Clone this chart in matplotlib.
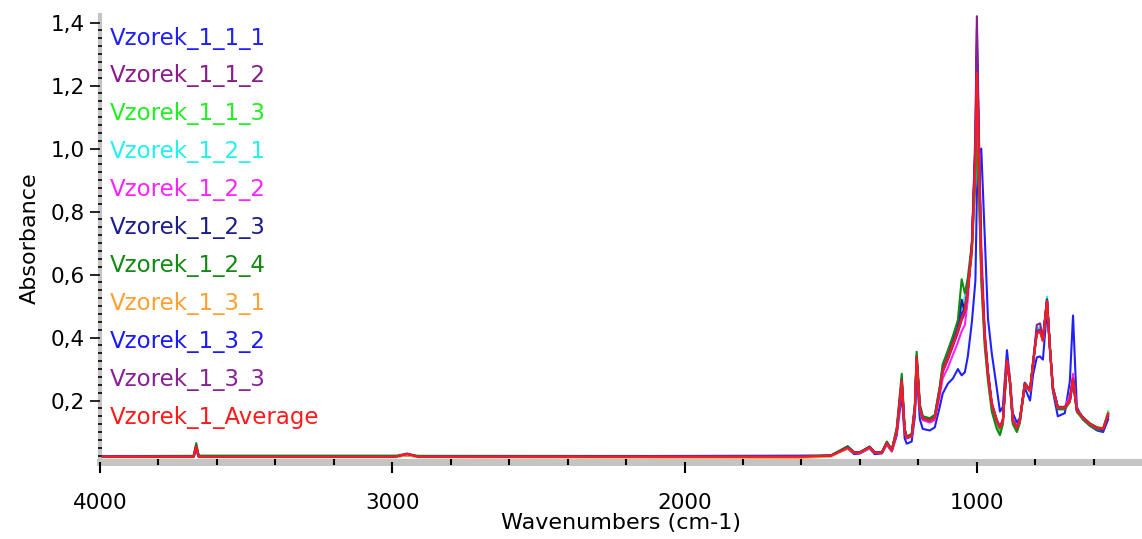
# FTIR spectra of Vzorek_1 samples
# Absorbance vs wavenumber, all replicates plus average



# Import libraries ............................................................

import numpy as np
import matplotlib
matplotlib.use("Agg")
import matplotlib.pyplot as plt
from matplotlib.ticker import MultipleLocator, FuncFormatter



# Data ................................................

# Common wavenumber grid (cm-1)
wavenumbers = [3990, 3680, 3671, 3662, 2990, 2950, 2910, 1600, 1500, 1442,
               1420, 1400, 1367, 1350, 1325, 1308, 1291, 1274, 1257, 1247,
               1240, 1223, 1212, 1206, 1195, 1185, 1161, 1144, 1127, 1117,
               1099, 1082, 1065, 1052, 1041, 1031, 1017, 1005, 1000, 995,
               985, 973, 962, 949, 932, 921, 911, 897, 887, 877,
               863, 853, 836, 818, 808, 795, 784, 774, 760, 750,
               740, 723, 699, 682, 671, 658, 637, 613, 589, 568,
               551]

vzorek_1_1_1 = [0.022, 0.022, 0.040, 0.022, 0.022, 0.026, 0.022, 0.025, 0.025, 0.048,
                0.030, 0.032, 0.048, 0.030, 0.032, 0.060, 0.038, 0.090, 0.220, 0.080,
                0.063, 0.070, 0.150, 0.290, 0.140, 0.110, 0.105, 0.115, 0.180, 0.222,
                0.254, 0.270, 0.300, 0.280, 0.290, 0.340, 0.450, 0.580, 0.850, 0.980,
                1.000, 0.720, 0.460, 0.350, 0.240, 0.165, 0.180, 0.360, 0.270, 0.160,
                0.130, 0.145, 0.240, 0.200, 0.280, 0.337, 0.340, 0.330, 0.490, 0.360,
                0.230, 0.150, 0.160, 0.260, 0.470, 0.180, 0.140, 0.120, 0.105, 0.100,
                0.140]

vzorek_1_1_2 = [0.022, 0.022, 0.050, 0.022, 0.022, 0.028, 0.022, 0.022, 0.025, 0.050,
                0.035, 0.035, 0.050, 0.035, 0.035, 0.064, 0.042, 0.100, 0.255, 0.100,
                0.080, 0.086, 0.172, 0.330, 0.172, 0.140, 0.134, 0.143, 0.228, 0.290,
                0.330, 0.372, 0.415, 0.455, 0.478, 0.545, 0.700, 1.050, 1.420, 1.150,
                0.650, 0.400, 0.280, 0.185, 0.130, 0.108, 0.132, 0.322, 0.258, 0.132,
                0.110, 0.134, 0.250, 0.228, 0.312, 0.425, 0.430, 0.395, 0.515, 0.365,
                0.238, 0.176, 0.176, 0.198, 0.262, 0.168, 0.144, 0.124, 0.112, 0.108,
                0.150]

vzorek_1_1_3 = [0.024, 0.025, 0.045, 0.026, 0.026, 0.030, 0.025, 0.024, 0.026, 0.055,
                0.036, 0.036, 0.054, 0.036, 0.036, 0.067, 0.044, 0.110, 0.270, 0.110,
                0.086, 0.092, 0.185, 0.345, 0.185, 0.150, 0.142, 0.152, 0.240, 0.305,
                0.350, 0.395, 0.440, 0.490, 0.510, 0.560, 0.660, 0.900, 1.120, 0.980,
                0.600, 0.390, 0.275, 0.180, 0.128, 0.100, 0.130, 0.320, 0.258, 0.130,
                0.106, 0.132, 0.255, 0.236, 0.320, 0.420, 0.425, 0.392, 0.520, 0.370,
                0.242, 0.180, 0.180, 0.202, 0.268, 0.172, 0.148, 0.128, 0.116, 0.112,
                0.165]

vzorek_1_2_1 = [0.022, 0.022, 0.035, 0.022, 0.022, 0.026, 0.022, 0.022, 0.025, 0.052,
                0.036, 0.036, 0.053, 0.036, 0.036, 0.066, 0.043, 0.108, 0.268, 0.108,
                0.085, 0.090, 0.182, 0.342, 0.182, 0.148, 0.142, 0.150, 0.242, 0.310,
                0.355, 0.400, 0.448, 0.500, 0.530, 0.575, 0.680, 0.920, 1.100, 0.960,
                0.600, 0.395, 0.282, 0.186, 0.134, 0.110, 0.134, 0.325, 0.260, 0.134,
                0.110, 0.134, 0.258, 0.234, 0.322, 0.430, 0.432, 0.398, 0.530, 0.372,
                0.242, 0.180, 0.180, 0.200, 0.262, 0.170, 0.146, 0.126, 0.114, 0.110,
                0.160]

vzorek_1_2_2 = [0.022, 0.022, 0.060, 0.022, 0.022, 0.026, 0.022, 0.022, 0.025, 0.048,
                0.034, 0.034, 0.050, 0.034, 0.034, 0.062, 0.040, 0.100, 0.250, 0.100,
                0.080, 0.086, 0.170, 0.325, 0.172, 0.138, 0.130, 0.138, 0.215, 0.270,
                0.305, 0.345, 0.385, 0.420, 0.440, 0.520, 0.700, 1.000, 1.160, 1.100,
                0.700, 0.420, 0.295, 0.195, 0.140, 0.118, 0.140, 0.330, 0.265, 0.140,
                0.118, 0.140, 0.255, 0.232, 0.315, 0.410, 0.418, 0.388, 0.512, 0.365,
                0.238, 0.178, 0.180, 0.215, 0.285, 0.172, 0.146, 0.126, 0.114, 0.110,
                0.155]

vzorek_1_2_3 = [0.022, 0.022, 0.045, 0.022, 0.022, 0.028, 0.022, 0.022, 0.025, 0.050,
                0.035, 0.035, 0.052, 0.035, 0.035, 0.065, 0.042, 0.104, 0.260, 0.104,
                0.082, 0.088, 0.176, 0.335, 0.176, 0.142, 0.136, 0.146, 0.235, 0.300,
                0.345, 0.390, 0.432, 0.520, 0.480, 0.548, 0.690, 1.000, 1.300, 1.080,
                0.630, 0.400, 0.284, 0.188, 0.135, 0.112, 0.136, 0.326, 0.262, 0.136,
                0.112, 0.136, 0.252, 0.230, 0.316, 0.415, 0.424, 0.392, 0.518, 0.368,
                0.240, 0.178, 0.178, 0.200, 0.268, 0.170, 0.146, 0.126, 0.114, 0.110,
                0.158]

vzorek_1_2_4 = [0.022, 0.022, 0.065, 0.022, 0.022, 0.028, 0.022, 0.022, 0.025, 0.055,
                0.036, 0.036, 0.054, 0.036, 0.036, 0.070, 0.044, 0.115, 0.285, 0.112,
                0.086, 0.094, 0.190, 0.355, 0.188, 0.150, 0.144, 0.155, 0.245, 0.315,
                0.360, 0.405, 0.455, 0.585, 0.540, 0.590, 0.700, 0.900, 1.080, 0.940,
                0.580, 0.370, 0.262, 0.165, 0.110, 0.090, 0.125, 0.320, 0.255, 0.125,
                0.100, 0.128, 0.250, 0.230, 0.318, 0.418, 0.425, 0.390, 0.522, 0.366,
                0.236, 0.172, 0.172, 0.195, 0.262, 0.164, 0.140, 0.120, 0.108, 0.104,
                0.150]

vzorek_1_3_1 = [0.020, 0.020, 0.050, 0.020, 0.020, 0.026, 0.020, 0.018, 0.022, 0.048,
                0.034, 0.034, 0.050, 0.034, 0.034, 0.063, 0.041, 0.103, 0.260, 0.103,
                0.082, 0.088, 0.176, 0.333, 0.176, 0.142, 0.136, 0.145, 0.232, 0.296,
                0.340, 0.382, 0.425, 0.470, 0.490, 0.552, 0.685, 0.980, 1.280, 1.060,
                0.625, 0.400, 0.285, 0.188, 0.136, 0.113, 0.136, 0.326, 0.262, 0.136,
                0.113, 0.136, 0.253, 0.231, 0.316, 0.414, 0.422, 0.390, 0.516, 0.367,
                0.239, 0.177, 0.177, 0.199, 0.268, 0.169, 0.145, 0.125, 0.113, 0.109,
                0.160]

vzorek_1_3_2 = [0.022, 0.022, 0.055, 0.022, 0.022, 0.030, 0.022, 0.024, 0.025, 0.052,
                0.036, 0.036, 0.053, 0.036, 0.036, 0.066, 0.043, 0.106, 0.265, 0.106,
                0.084, 0.090, 0.180, 0.338, 0.180, 0.144, 0.138, 0.147, 0.234, 0.298,
                0.340, 0.384, 0.428, 0.475, 0.495, 0.555, 0.690, 1.000, 1.330, 1.100,
                0.640, 0.405, 0.288, 0.190, 0.138, 0.115, 0.138, 0.330, 0.265, 0.138,
                0.115, 0.138, 0.256, 0.233, 0.318, 0.416, 0.424, 0.392, 0.520, 0.370,
                0.242, 0.180, 0.178, 0.200, 0.270, 0.170, 0.146, 0.126, 0.114, 0.105,
                0.150]

vzorek_1_3_3 = [0.022, 0.022, 0.050, 0.022, 0.022, 0.032, 0.022, 0.022, 0.025, 0.050,
                0.035, 0.035, 0.052, 0.035, 0.035, 0.065, 0.042, 0.104, 0.262, 0.104,
                0.082, 0.088, 0.176, 0.335, 0.176, 0.142, 0.136, 0.145, 0.230, 0.293,
                0.335, 0.378, 0.420, 0.460, 0.482, 0.548, 0.690, 1.020, 1.380, 1.120,
                0.640, 0.400, 0.284, 0.188, 0.136, 0.113, 0.136, 0.326, 0.262, 0.136,
                0.113, 0.136, 0.253, 0.231, 0.316, 0.440, 0.445, 0.400, 0.516, 0.367,
                0.239, 0.177, 0.177, 0.199, 0.268, 0.169, 0.145, 0.125, 0.113, 0.109,
                0.158]

vzorek_1_average = [0.022, 0.022, 0.055, 0.022, 0.022, 0.030, 0.022, 0.022, 0.025, 0.050,
                    0.035, 0.035, 0.052, 0.035, 0.035, 0.065, 0.042, 0.105, 0.263, 0.105,
                    0.083, 0.089, 0.178, 0.337, 0.178, 0.143, 0.137, 0.146, 0.232, 0.295,
                    0.337, 0.380, 0.422, 0.463, 0.486, 0.550, 0.680, 0.950, 1.240, 1.050,
                    0.620, 0.400, 0.286, 0.190, 0.137, 0.114, 0.137, 0.327, 0.263, 0.137,
                    0.114, 0.137, 0.254, 0.232, 0.317, 0.413, 0.422, 0.390, 0.517, 0.368,
                    0.240, 0.178, 0.178, 0.200, 0.270, 0.170, 0.146, 0.126, 0.114, 0.110,
                    0.158]

series_names = ["Vzorek_1_1_1", "Vzorek_1_1_2", "Vzorek_1_1_3", "Vzorek_1_2_1",
                "Vzorek_1_2_2", "Vzorek_1_2_3", "Vzorek_1_2_4", "Vzorek_1_3_1",
                "Vzorek_1_3_2", "Vzorek_1_3_3", "Vzorek_1_Average"]
series_values = [vzorek_1_1_1, vzorek_1_1_2, vzorek_1_1_3, vzorek_1_2_1,
                 vzorek_1_2_2, vzorek_1_2_3, vzorek_1_2_4, vzorek_1_3_1,
                 vzorek_1_3_2, vzorek_1_3_3, vzorek_1_average]
series_colors = ["#2020ff", "#8b1a8b", "#22ee22", "#22f0f0", "#ff22ff", "#1c1c8c",
                 "#128a12", "#ffa030", "#1a1aff", "#8a2096", "#ff1a1a"]



# Plot spectra ................................................................

plt.rcParams["font.family"] = "DejaVu Sans"

fig = plt.figure(figsize = (11.42, 5.39), dpi = 100)
ax = fig.add_axes([0.0876, 0.1429, 0.9124, 0.8293])

x = np.array(wavenumbers)
for name, values, color in zip(series_names, series_values, series_colors):
    ax.plot(x, np.array(values), color = color, linewidth = 1.5)

# Coloured sample names instead of a normal legend
for i, (name, color) in enumerate(zip(series_names, series_colors)):
    ax.text(0.0096, 0.9485 - i * 0.085, name, color = color, fontsize = 16.5,
            ha = "left", va = "center", transform = ax.transAxes)

ax.set_xlim(4000, 435)
ax.set_ylim(0.005, 1.424)

ax.xaxis.set_major_locator(MultipleLocator(1000))
ax.xaxis.set_minor_locator(MultipleLocator(200))
ax.yaxis.set_major_locator(MultipleLocator(0.2))
ax.yaxis.set_minor_locator(MultipleLocator(0.025))
ax.yaxis.set_major_formatter(FuncFormatter(lambda v, p: f"{v:.1f}".replace(".", ",") if v > 0.1 else ""))
ax.xaxis.set_major_formatter(FuncFormatter(lambda v, p: f"{v:.0f}"))

# Grey axis bars with black ticks
for side in ["top", "right"]:
    ax.spines[side].set_visible(False)
ax.spines["left"].set_color("#c4c4c4")
ax.spines["left"].set_linewidth(3)
ax.spines["bottom"].set_color("#c4c4c4")
ax.spines["bottom"].set_linewidth(5)
ax.spines["left"].set_zorder(0.5)
ax.spines["bottom"].set_zorder(0.5)

ax.tick_params(axis = "x", which = "major", direction = "out", length = 8, width = 1.5,
               labelsize = 15.5, pad = 14, colors = "black")
ax.tick_params(axis = "x", which = "minor", direction = "inout", length = 5, width = 1.5)
ax.tick_params(axis = "y", which = "major", direction = "out", length = 7, width = 1.2,
               labelsize = 15.5, pad = 4)
ax.tick_params(axis = "y", which = "minor", direction = "inout", length = 3, width = 1.2)

ax.set_xlabel("Wavenumbers (cm-1)", fontsize = 16, labelpad = 0)
ax.set_ylabel("Absorbance", fontsize = 16, labelpad = 8)

plt.savefig("out.png", dpi = 100)
